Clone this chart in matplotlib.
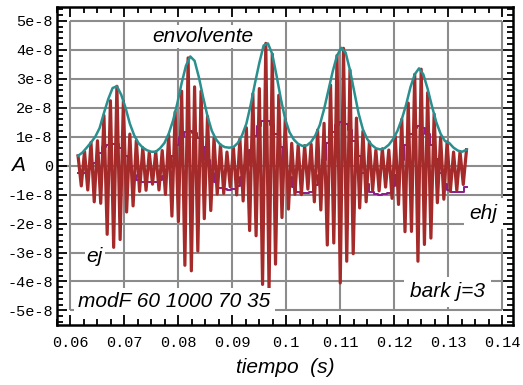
import matplotlib
matplotlib.use("Agg")
import matplotlib.pyplot as plt
import numpy as np

# señal muestreada (unidades de 1e-8), picos y valles alternados
senal = [0.34, -0.70, 0.49, -0.84, 0.80, -1.25, 0.86, -1.30, 1.73, -2.37,
         2.24, -2.82, 2.74, -2.55, 2.23, -1.60, 1.09, -1.39, 0.87, -0.89,
         0.62, -0.85, 0.46, -0.64, 0.48, -0.84, 0.52, -0.99, 1.05, -1.74,
         1.85, -1.93, 2.57, -3.44, 3.72, -3.63, 2.72, -2.95, 2.57, -1.83,
         1.70, -1.55, 0.95, -0.98, 0.72, -0.96, 0.47, -0.73, 0.61, -1.01,
         0.92, -1.22, 1.31, -2.24, 2.48, -2.42, 2.66, -4.10, 4.22, -4.30,
         3.85, -3.40, 2.43, -1.79, 1.60, -1.50, 0.77, -0.99, 0.71, -1.00,
         0.69, -0.81, 0.74, -1.25, 1.23, -1.53, 1.46, -2.74, 2.78, -2.67,
         3.80, -4.05, 4.05, -3.30, 3.30, -3.04, 1.64, -1.46, 1.19, -1.25,
         0.82, -0.85, 0.54, -0.87, 0.58, -0.74, 0.54, -1.13, 1.01, -1.34,
         1.60, -2.28, 2.16, -2.27, 3.15, -3.30, 3.33, -2.72, 2.52, -2.50,
         1.78, -1.28, 0.99, -1.16, 0.82, -0.89, 0.47, -0.85, 0.48, -0.65,
         0.55]

# envolvente (unidades de 1e-8)
envolvente = [0.34, 0.45, 0.62, 0.80, 1.00, 1.30, 1.82, 2.30, 2.68, 2.74,
              2.45, 2.00, 1.45, 1.05, 0.78, 0.62, 0.53, 0.48, 0.48, 0.60,
              0.78, 1.10, 1.55, 2.15, 2.85, 3.45, 3.77, 3.62, 3.05, 2.35,
              1.70, 1.20, 0.90, 0.72, 0.64, 0.62, 0.64, 0.78, 1.05, 1.45,
              2.10, 2.85, 3.55, 4.15, 4.22, 3.85, 3.10, 2.30, 1.60, 1.15,
              0.90, 0.75, 0.68, 0.70, 0.82, 1.05, 1.40, 1.95, 2.60, 3.25,
              3.80, 4.07, 3.90, 3.30, 2.55, 1.80, 1.25, 0.92, 0.72, 0.60,
              0.56, 0.60, 0.72, 0.92, 1.20, 1.60, 2.10, 2.70, 3.15, 3.36,
              3.15, 2.65, 2.05, 1.50, 1.10, 0.85, 0.78, 0.62, 0.52, 0.48,
              0.55]

# ej (unidades de 1e-8)
ej = [-0.27, -0.27, -0.25, -0.12, 0.10, 0.42, 0.64, 0.73, 0.76, 0.74,
      0.62, 0.34, 0.00, -0.32, -0.50, -0.55, -0.56, -0.56, -0.55, -0.50,
      -0.35, -0.07, 0.32, 0.71, 0.99, 1.15, 1.20, 1.14, 0.96, 0.63,
      0.19, -0.25, -0.58, -0.76, -0.82, -0.83, -0.80, -0.69, -0.40, 0.03,
      0.55, 1.03, 1.36, 1.53, 1.55, 1.40, 1.10, 0.65, 0.10, -0.40,
      -0.75, -0.90, -0.95, -0.95, -0.90, -0.68, -0.31, 0.20, 0.77, 1.16,
      1.40, 1.50, 1.45, 1.23, 0.85, 0.33, -0.25, -0.65, -0.90, -0.98,
      -1.00, -0.98, -0.93, -0.72, -0.34, 0.19, 0.71, 1.09, 1.30, 1.37,
      1.30, 1.10, 0.73, 0.24, -0.26, -0.63, -0.83, -0.90, -0.90, -0.90,
      -0.75]

t_ini, t_fin = 0.0614, 0.1334
escala = 1e-8

xticks = [0.06, 0.07, 0.08, 0.09, 0.10, 0.11, 0.12, 0.13, 0.14]
xlabels = ["0.06", "0.07", "0.08", "0.09", "0.1", "0.11", "0.12", "0.13", "0.14"]
yticks = [5e-8, 4e-8, 3e-8, 2e-8, 1e-8, 0, -1e-8, -2e-8, -3e-8, -4e-8, -5e-8]
ylabels = ["5e-8", "4e-8", "3e-8", "2e-8", "1e-8", "0", "-1e-8", "-2e-8",
           "-3e-8", "-4e-8", "-5e-8"]

t_sen = np.linspace(t_ini, t_fin, len(senal))
t_env = np.linspace(t_ini, t_fin, len(envolvente))

fig = plt.figure(figsize=(5.23, 3.85), dpi=100)
ax = fig.add_axes([0.109, 0.156, 0.872, 0.826])
ax.set_xlim(0.05797, 0.14203)
ax.set_ylim(-5.5e-8, 5.48e-8)

# rejilla gris
gris = "#8c8c8c"
ax.vlines(xticks, -5e-8, 5e-8, color=gris, lw=1.5, zorder=0)
ax.hlines(yticks, 0.06, 0.14, color=gris, lw=1.5, zorder=0)
ax.hlines(0, 0.05797, 0.06, color=gris, lw=1.5, zorder=0)

ax.plot(t_env, np.array(ej) * escala, color="#8b1a8b", lw=1.4,
        drawstyle="steps-mid", zorder=1.5)
ax.plot(t_sen, np.array(senal) * escala, color="#a52a2a", lw=2.3, zorder=2)
ax.plot(t_env, np.array(envolvente) * escala, color="#2a8f8f", lw=1.8, zorder=3)

fuente = dict(family="Liberation Sans", style="italic", fontsize=15)
caja = dict(facecolor="white", edgecolor="none", pad=1.5)
ax.text(0.0845, 4.45e-8, "envolvente", ha="center", va="center", bbox=caja, zorder=5, **fuente)
ax.text(0.0645, -3.15e-8, "ej", ha="center", va="center", bbox=caja, zorder=5, **fuente)
ax.text(0.0793, -4.7e-8, "modF 60 1000 70 35", ha="center", va="center",
        bbox=dict(facecolor="white", edgecolor="none", pad=3), zorder=5, **fuente)
ax.text(0.1365, -1.65e-8, "ehj", ha="center", va="center",
        bbox=dict(facecolor="white", edgecolor="none", pad=4), zorder=5, **fuente)
ax.text(0.1299, -4.35e-8, "bark j=3", ha="center", va="center",
        bbox=dict(facecolor="white", edgecolor="none", pad=4), zorder=5, **fuente)

# marco con marcas hacia dentro
for s in ax.spines.values():
    s.set_linewidth(1.8)
ax.set_xticks(xticks)
ax.set_xticklabels(xlabels)
ax.set_yticks(yticks)
ax.set_yticklabels(ylabels)
ax.set_xticks(np.arange(0.0575, 0.1425, 0.0025), minor=True)
ax.set_yticks(np.arange(-5.4e-8, 5.5e-8, 0.2e-8), minor=True)
ax.tick_params(which="both", direction="in", top=True, right=True, width=1.3)
ax.tick_params(which="major", length=7)
ax.tick_params(which="minor", length=4)
ax.tick_params(axis="x", which="major", pad=8)
ax.tick_params(axis="y", which="major", pad=3)
for lab in ax.get_xticklabels() + ax.get_yticklabels():
    lab.set_family("Liberation Mono")
    lab.set_fontsize(11)

fig.text(0.035, 0.57, "A", ha="center", va="center", **fuente)
fig.text(0.545, 0.045, "tiempo  (s)", ha="center", va="center", **fuente)

fig.savefig("out.png", dpi=100)
